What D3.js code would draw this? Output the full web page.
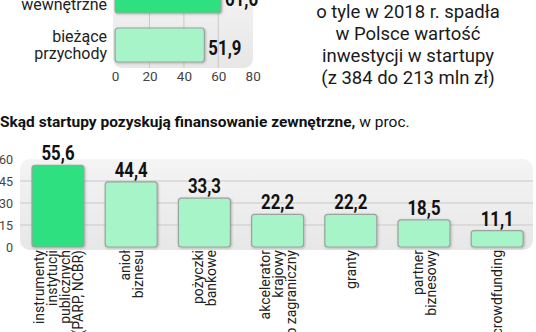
<!DOCTYPE html>
<html>
<head>
<meta charset="utf-8">
<script src="https://cdn.jsdelivr.net/npm/d3@7"></script>
<style>
  html, body { margin: 0; padding: 0; background: #fff; }
  svg { display: block; }
</style>
</head>
<body>
<svg id="chart" width="536" height="332"></svg>
<script>
// Źródła finansowania wewnętrznego (poziome słupki, w proc.)
const topCategories = ["środki wewnętrzne", "bieżące przychody"];
const topLabelLines = [["środki", "wewnętrzne"], ["bieżące", "przychody"]];
const topValues = [61.6, 51.9];
const topTicks = [0, 20, 40, 60, 80];

// Skąd startupy pozyskują finansowanie zewnętrzne, w proc.
const categories = [
  "instrumenty instytucji publicznych (PARP, NCBR)",
  "anioł biznesu",
  "pożyczki bankowe",
  "akcelerator krajowy lub zagraniczny",
  "granty",
  "partner biznesowy",
  "crowdfunding"
];
const categoryLines = [
  ["instrumenty", "instytucji", "publicznych", "(PARP, NCBR)"],
  ["anioł", "biznesu"],
  ["pożyczki", "bankowe"],
  ["akcelerator", "krajowy", "lub zagraniczny"],
  ["granty"],
  ["partner", "biznesowy"],
  ["crowdfunding"]
];
const values = [55.6, 44.4, 33.3, 22.2, 22.2, 18.5, 11.1];
const yTicks = [0, 15, 30, 45, 60];

const noteLines = [
  "o tyle w 2018 r. spadła",
  "w Polsce wartość",
  "inwestycji w startupy",
  "(z 384 do 213 mln zł)"
];
const chartTitleBold = "Skąd startupy pozyskują finansowanie zewnętrzne,";
const chartTitleRest = " w proc.";

const fmt = v => d3.format(".1f")(v).replace(".", ",");

const FONT = "Roboto, 'Noto Sans', sans-serif";
const GREEN = "#2fe07f";
const MINT = "#a6f4c8";
const BAR_STROKE = "#9aa39e";
const NUM_SQUEEZE = 0.84;   // condensed look of the bold value labels

const svg = d3.select("#chart");
const defs = svg.append("defs");

const grad = defs.append("linearGradient")
  .attr("id", "panelFill").attr("x1", 0).attr("y1", 0).attr("x2", 0).attr("y2", 1);
grad.append("stop").attr("offset", "0%").attr("stop-color", "#f4f4f4");
grad.append("stop").attr("offset", "100%").attr("stop-color", "#e7e7e7");

const shadow = defs.append("filter").attr("id", "barShadow")
  .attr("x", "-10%").attr("y", "-10%").attr("width", "130%").attr("height", "130%");
shadow.append("feDropShadow")
  .attr("dx", 0.8).attr("dy", 0.8).attr("stdDeviation", 0.8)
  .attr("flood-color", "#000").attr("flood-opacity", 0.25);

// ---------- górny wykres: poziome słupki ----------
const xTop = d3.scaleLinear().domain([0, 80]).range([115.1, 252.7]);
const yTop = d3.scaleBand().domain(topCategories).range([-28.5, 69.5])
  .paddingInner(0.306).paddingOuter(0.153);

const upper = svg.append("g");
upper.append("rect")
  .attr("x", 113).attr("y", -20).attr("width", 140).attr("height", 88)
  .attr("rx", 9).attr("fill", "url(#panelFill)");

upper.append("g").selectAll("line")
  .data(topTicks.filter(t => t > 0 && t < 80))
  .join("line")
  .attr("x1", d => xTop(d)).attr("x2", d => xTop(d))
  .attr("y1", -20).attr("y2", 68)
  .attr("stroke", "#c9c9c9").attr("stroke-width", 1);

const xAxisTop = d3.axisBottom(xTop).tickValues(topTicks).tickSize(0).tickPadding(0);
upper.append("g")
  .attr("transform", "translate(0,71)")
  .call(xAxisTop)
  .call(g => g.select(".domain").remove())
  .call(g => g.selectAll("text")
    .attr("font-family", FONT).attr("font-size", 13.5).attr("fill", "#444")
    .attr("dy", "0.75em"));

upper.selectAll("rect.bar")
  .data(topValues)
  .join("rect")
  .attr("class", "bar")
  .attr("x", xTop(0))
  .attr("y", (d, i) => yTop(topCategories[i]))
  .attr("width", d => xTop(d) - xTop(0))
  .attr("height", yTop.bandwidth())
  .attr("rx", 3)
  .attr("fill", (d, i) => i === 0 ? GREEN : MINT)
  .attr("stroke", BAR_STROKE).attr("stroke-width", 1.2)
  .attr("filter", "url(#barShadow)");

upper.selectAll("text.val")
  .data(topValues)
  .join("text")
  .attr("class", "val")
  .attr("transform", (d, i) =>
    `translate(${xTop(d) + 4},${yTop(topCategories[i]) + yTop.bandwidth() / 2 + 10}) scale(${NUM_SQUEEZE},1)`)
  .attr("font-family", FONT).attr("font-weight", "bold")
  .attr("font-size", 20).attr("fill", "#111")
  .text(d => fmt(d));

topLabelLines.forEach((lines, i) => {
  const cy = yTop(topCategories[i]) + yTop.bandwidth() / 2;
  const t = upper.append("text")
    .attr("x", 107).attr("text-anchor", "end")
    .attr("font-family", FONT).attr("font-size", 16).attr("fill", "#222");
  lines.forEach((ln, j) => {
    t.append("tspan").attr("x", 107)
      .attr("y", cy + (j - (lines.length - 1) / 2) * 17 + 5.5)
      .text(ln);
  });
});

// ---------- notka po prawej ----------
svg.append("text")
  .attr("text-anchor", "middle")
  .attr("font-family", FONT).attr("font-size", 18.5).attr("fill", "#1a1a1a")
  .selectAll("tspan")
  .data(noteLines)
  .join("tspan")
  .attr("x", 408)
  .attr("y", (d, i) => 18 + i * 22)
  .text(d => d);

// ---------- tytuł dolnego wykresu ----------
const title = svg.append("text")
  .attr("x", 0).attr("y", 127)
  .attr("font-family", FONT).attr("font-size", 15.5).attr("fill", "#111");
title.append("tspan").attr("font-weight", "bold").text(chartTitleBold);
title.append("tspan").attr("font-weight", "normal").text(chartTitleRest);

// ---------- dolny wykres: pionowe słupki ----------
const x = d3.scaleBand().domain(categories).range([21.4, 533.8])
  .paddingInner(0.29).paddingOuter(0.145);
const y = d3.scaleLinear().domain([0, 60]).range([247, 159]);

const lower = svg.append("g");
lower.append("rect")
  .attr("x", 20).attr("y", 159).attr("width", 513).attr("height", 91)
  .attr("rx", 10).attr("fill", "url(#panelFill)");

lower.append("g").selectAll("line")
  .data(yTicks.filter(t => t > 0 && t < 60))
  .join("line")
  .attr("x1", 20).attr("x2", 533)
  .attr("y1", d => y(d)).attr("y2", d => y(d))
  .attr("stroke", "#c9c9c9").attr("stroke-width", 1);

const yAxis = d3.axisLeft(y).tickValues(yTicks).tickSize(0).tickPadding(0);
lower.append("g")
  .attr("transform", "translate(13,0)")
  .call(yAxis)
  .call(g => g.select(".domain").remove())
  .call(g => g.selectAll("text")
    .attr("font-family", FONT).attr("font-size", 12.5).attr("fill", "#444"));

lower.selectAll("rect.bar")
  .data(values)
  .join("rect")
  .attr("class", "bar")
  .attr("x", (d, i) => x(categories[i]))
  .attr("y", d => y(d))
  .attr("width", x.bandwidth())
  .attr("height", d => y(0) - y(d))
  .attr("rx", 3)
  .attr("fill", (d, i) => i === 0 ? GREEN : MINT)
  .attr("stroke", BAR_STROKE).attr("stroke-width", 1.2)
  .attr("filter", "url(#barShadow)");

lower.selectAll("text.val")
  .data(values)
  .join("text")
  .attr("class", "val")
  .attr("transform", (d, i) =>
    `translate(${x(categories[i]) + x.bandwidth() / 2},${y(d) - 5}) scale(${NUM_SQUEEZE},1)`)
  .attr("text-anchor", "middle")
  .attr("font-family", FONT).attr("font-weight", "bold")
  .attr("font-size", 20).attr("fill", "#111")
  .text(d => fmt(d));

categoryLines.forEach((lines, i) => {
  const cx = x(categories[i]) + x.bandwidth() / 2;
  const t = lower.append("text")
    .attr("transform", `translate(${cx},250) rotate(-90)`)
    .attr("text-anchor", "end")
    .attr("font-family", FONT).attr("font-size", 14).attr("fill", "#222");
  lines.forEach((ln, j) => {
    t.append("tspan").attr("x", 0)
      .attr("y", (j - (lines.length - 1) / 2) * 13 + 5)
      .text(ln);
  });
});
</script>
</body>
</html>
